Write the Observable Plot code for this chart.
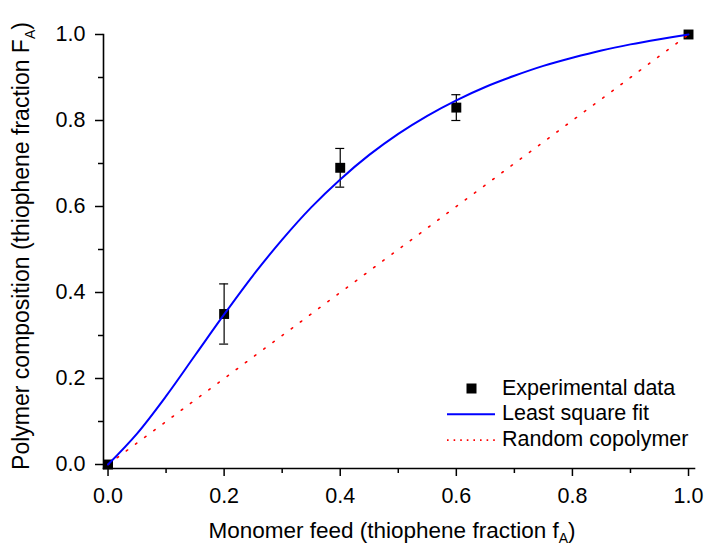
<!DOCTYPE html>
<html>
<head>
<meta charset="utf-8">
<script src="https://cdn.jsdelivr.net/npm/d3@7"></script>
<script src="https://cdn.jsdelivr.net/npm/@observablehq/plot@0.6"></script>
<style>
  html, body { margin: 0; padding: 0; background: #fff; }
  #chart svg { display: block; }
</style>
</head>
<body>
<div id="chart"></div>
<script>
// Measured copolymer composition vs. monomer feed (thiophene fraction)
const feed = [0, 0.2, 0.4, 0.6, 1.0];
const composition = [0, 0.35, 0.69, 0.83, 1.0];
const compositionError = [0, 0.07, 0.045, 0.03, 0];

// Least-square fit curve
const fitFeed = [0, 0.05, 0.1, 0.15, 0.2, 0.25, 0.3, 0.35, 0.4, 0.45, 0.5,
                 0.55, 0.6, 0.65, 0.7, 0.75, 0.8, 0.85, 0.9, 0.95, 1.0];
const fitComposition = [0, 0.072, 0.159, 0.254, 0.349, 0.44, 0.523, 0.598, 0.663, 0.72, 0.769,
                        0.811, 0.847, 0.878, 0.904, 0.927, 0.946, 0.963, 0.977, 0.989, 1.0];

// Ideal random copolymer (F = f)
const randomFeed = [0, 1];
const randomComposition = [0, 1];

// Axis ticks
const majorTicks = [0, 0.2, 0.4, 0.6, 0.8, 1.0];
const minorTicks = [0.1, 0.3, 0.5, 0.7, 0.9];

// Legend entries
const legendLabels = ["Experimental data", "Least square fit", "Random copolymer"];

const points = feed.map((f, i) => ({f, F: composition[i], e: compositionError[i]}));
const bars = points.filter(d => d.e > 0);
const fit = fitFeed.map((f, i) => ({f, F: fitComposition[i]}));
const random = randomFeed.map((f, i) => ({f, F: randomComposition[i]}));

const FONT = "'Liberation Sans', Arial, Helvetica, sans-serif";
const fmt = d3.format(".1f");

const plot = Plot.plot({
  width: 705,
  height: 547,
  marginLeft: 103,
  marginRight: 11,
  marginTop: 34,
  marginBottom: 79,
  style: {fontFamily: FONT, fontSize: "21.5px", color: "black", background: "white", overflow: "visible"},
  x: {domain: [-0.0078, 1.0103]},
  y: {domain: [-0.0093, 1.0]},
  marks: [
    Plot.frame({anchor: "left", stroke: "black", strokeWidth: 1.6}),
    Plot.frame({anchor: "bottom", stroke: "black", strokeWidth: 1.6}),
    Plot.axisX(majorTicks, {tickSize: 8, tickPadding: 11, tickFormat: fmt, label: null, strokeWidth: 1.5}),
    Plot.axisX(minorTicks, {tickSize: 5, tickFormat: () => "", label: null, strokeWidth: 1.5}),
    Plot.axisY(majorTicks, {tickSize: 8, tickPadding: 10, tickFormat: fmt, label: null, strokeWidth: 1.5}),
    Plot.axisY(minorTicks, {tickSize: 5, tickFormat: () => "", label: null, strokeWidth: 1.5}),

    // error bars with caps
    Plot.ruleX(bars, {x: "f", y1: d => d.F - d.e, y2: d => d.F + d.e, stroke: "black", strokeWidth: 1.2}),
    Plot.ruleY(bars, {y: d => d.F - d.e, x1: "f", x2: "f", insetLeft: -4.5, insetRight: -4.5, stroke: "black", strokeWidth: 1.2}),
    Plot.ruleY(bars, {y: d => d.F + d.e, x1: "f", x2: "f", insetLeft: -4.5, insetRight: -4.5, stroke: "black", strokeWidth: 1.2}),

    // experimental points
    Plot.dot(points, {x: "f", y: "F", symbol: "square", r: 5.6, fill: "black", stroke: null}),

    // random copolymer reference
    Plot.line(random, {x: "f", y: "F", stroke: "#ff0000", strokeWidth: 1.6, strokeDasharray: "1.6,9.8"}),

    // fitted curve
    Plot.line(fit, {x: "f", y: "F", stroke: "#0000ff", strokeWidth: 2, curve: "catmull-rom"})
  ]
});

const svg = d3.select(plot);

// axis titles with subscripts
const xTitle = svg.append("text")
  .attr("x", 392).attr("y", 538)
  .attr("text-anchor", "middle")
  .attr("font-family", FONT).attr("font-size", 22.5).attr("fill", "black");
xTitle.append("tspan").text("Monomer feed (thiophene fraction f");
xTitle.append("tspan").attr("font-size", 14).attr("dy", 5).text("A");
xTitle.append("tspan").attr("dy", -5).text(")");

const yTitle = svg.append("text")
  .attr("transform", "translate(29,246) rotate(-90)")
  .attr("text-anchor", "middle")
  .attr("font-family", FONT).attr("font-size", 23).attr("fill", "black");
yTitle.append("tspan").text("Polymer composition (thiophene fraction F");
yTitle.append("tspan").attr("font-size", 14).attr("dy", 6).text("A");
yTitle.append("tspan").attr("dy", -6).text(")");

// legend
const legend = svg.append("g")
  .attr("font-family", FONT).attr("font-size", 21.5).attr("fill", "black")
  .attr("text-anchor", "start");
legendLabels.forEach((label, i) => {
  const cy = 388.5 + i * 25.8;
  const row = legend.append("g");
  if (i === 0) {
    row.append("rect").attr("x", 466.5).attr("y", cy - 5).attr("width", 10).attr("height", 10).attr("fill", "black");
  } else if (i === 1) {
    row.append("line").attr("x1", 447).attr("x2", 495).attr("y1", cy).attr("y2", cy)
      .attr("stroke", "#0000ff").attr("stroke-width", 2);
  } else {
    row.append("line").attr("x1", 447).attr("x2", 495).attr("y1", cy).attr("y2", cy)
      .attr("stroke", "#ff0000").attr("stroke-width", 1.6).attr("stroke-dasharray", "1.6,5");
  }
  row.append("text").attr("x", 502).attr("y", cy + 6).attr("text-anchor", "start").text(label);
});

document.getElementById("chart").appendChild(plot);
</script>
</body>
</html>
